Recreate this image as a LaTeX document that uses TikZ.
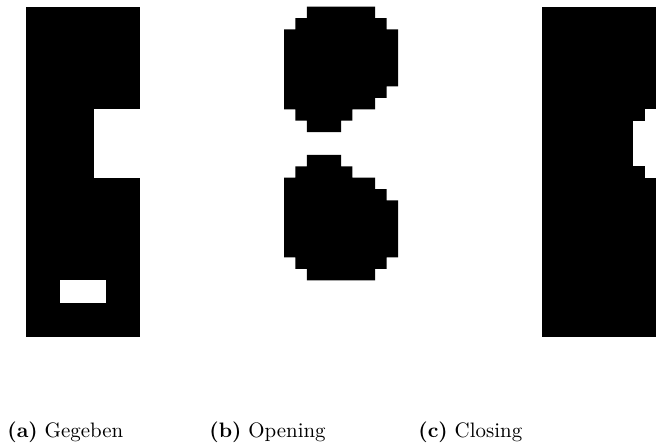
\documentclass[tikz,border=0pt]{standalone}
\begin{document}
\begin{tikzpicture}[x=0.4785pt,y=-0.4785pt,
  cell/.style={fill=black},
  hole/.style={fill=white},
  subcaption/.style={anchor=base west,inner sep=0pt,font=\fontsize{10}{12}\selectfont}]
\useasboundingbox[fill=white] (0,0) rectangle (667,446);

% (a) given image: 10 x 29 cells
\begin{scope}[shift={(26,6.7)}]
\begin{scope}[x=5.455pt,y=-5.455pt]
  \fill[cell] (0,0) rectangle (10,29);
  \fill[hole] (6,9) rectangle (10,15);
  \fill[hole] (3,24) rectangle (7,26);
\end{scope}
\end{scope}

% (b) opening: two rounded blobs
\begin{scope}[shift={(284,6.7)}]
\begin{scope}[x=5.455pt,y=-5.455pt]
  \fill[cell] (2,0) -| (8,1) -| (9,2) -| (10,7) -| (9,8) -| (8,9) -| (6,10)
     -| (5,11) -| (2,10) -| (1,9) -| (0,2) -| (1,1) -| (2,0) -- cycle;
  \fill[cell] (2,13) -| (5,14) -| (6,15) -| (8,16) -| (9,17) -| (10,22)
     -| (9,23) -| (8,24) -| (2,23) -| (1,22) -| (0,15) -| (1,14) -| (2,13) -- cycle;
\end{scope}
\end{scope}

% (c) closing
\begin{scope}[shift={(542,6.7)}]
\begin{scope}[x=5.455pt,y=-5.455pt]
  \fill[cell] (0,0) rectangle (10,29);
  \fill[hole] (9,9) rectangle (10,15);
  \fill[hole] (8,10) rectangle (10,14);
\end{scope}
\end{scope}

\node[subcaption] (capa) at (7,438) {\textbf{(a)} Gegeben};
\node[subcaption] (capb) at (209,438) {\textbf{(b)} Opening};
\node[subcaption] (capc) at (418,438) {\textbf{(c)} Closing};
\end{tikzpicture}
\end{document}
